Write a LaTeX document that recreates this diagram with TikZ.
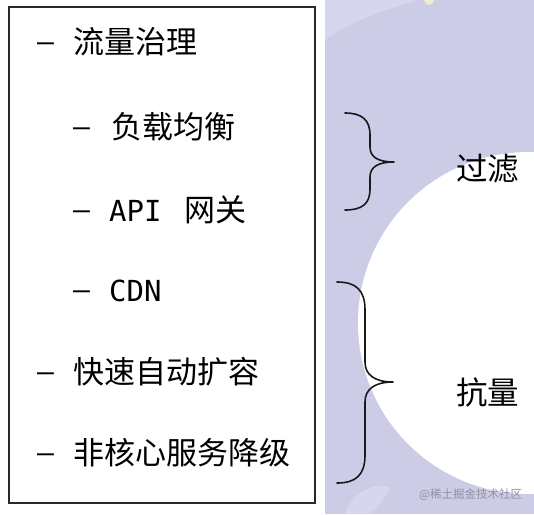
\documentclass[tikz,border=0pt]{standalone}
\usepackage{fontspec}
\setmainfont{Noto Sans CJK SC}
\newfontfamily\monofnt{DejaVu Sans Mono}
\definecolor{lav}{HTML}{CCCCE6}
\definecolor{lavlight}{HTML}{D6D7EE}
\definecolor{boxline}{HTML}{2A2A2A}
\definecolor{wm}{HTML}{9090A4}
\definecolor{pale}{HTML}{F2EDD0}
\tikzset{
  item/.style={anchor=base west, inner sep=0pt, font=\fontsize{31}{36}\selectfont},
  monoitem/.style={anchor=base west, inner sep=0pt, font=\monofnt\fontsize{29}{36}\selectfont},
  dashitem/.style={anchor=base west, inner sep=0pt, font=\monofnt\fontsize{28}{36}\selectfont},
  tag/.style={anchor=base west, inner sep=0pt, font=\fontsize{31.5}{36}\selectfont},
  bracestyle/.style={line width=1.6pt, draw=black!90, line cap=round, line join=round},
}
\begin{document}
\begin{tikzpicture}[x=1pt,y=-1pt]
\useasboundingbox (0,0) rectangle (534,514);
% right decorative background
\begin{scope}
  \clip (325,0) rectangle (534,514);
  \fill[lav] (325,0) rectangle (534,514);
  \fill[lavlight] (325,0) -- (420,0) .. controls (380,10) and (345,25) .. (325,40) -- cycle;
  \fill[lavlight] (345,514) .. controls (350,495) and (375,480) .. (390,488) .. controls (385,500) and (375,510) .. (368,514) -- cycle;
  \fill[pale] (429,0) ellipse (5 and 5);
  \fill[white] (529,323) circle (171);
\end{scope}
% left box
\draw[boxline, line width=1.3pt] (9,7) rectangle (315,503);
% list items
\node[dashitem] (d1) at (37,51) {–};
\node[item] (t1) at (73,53.6) {流量治理};
\node[dashitem] (d2) at (73,136) {–};
\node[item] (t2) at (111,138.6) {负载均衡};
\node[dashitem] (d3) at (73,219) {–};
\node[monoitem] (t3a) at (109,221) {API};
\node[item] (t3b) at (184,221.6) {网关};
\node[dashitem] (d4) at (73,299) {–};
\node[monoitem] (t4) at (109,301) {CDN};
\node[dashitem] (d5) at (37,381) {–};
\node[item] (t5) at (73,383.6) {快速自动扩容};
\node[dashitem] (d6) at (37,462) {–};
\node[item] (t6) at (73,464.6) {非核心服务降级};
% braces
\coordinate (b1t) at (345,113);
\coordinate (b1m) at (394,162);
\coordinate (b1b) at (345,210);
\draw[bracestyle] (b1t) .. controls (362,113) and (370,120) .. (370,135) -- (370,147)
  .. controls (370,157) and (378,162) .. (b1m)
  .. controls (378,162) and (370,167) .. (370,177) -- (370,189)
  .. controls (370,204) and (362,210) .. (b1b);
\coordinate (b2t) at (337,282);
\coordinate (b2m) at (393,382);
\coordinate (b2b) at (337,483);
\draw[bracestyle] (b2t) .. controls (356,282) and (365,290) .. (365,310) -- (365,362)
  .. controls (365,375) and (375,382) .. (b2m)
  .. controls (375,382) and (365,389) .. (365,402) -- (365,455)
  .. controls (365,475) and (356,483) .. (b2b);
% labels
\node[tag] (f) at (456,180) {过滤};
\node[tag] (k) at (456,404) {抗量};
% watermark
\node[anchor=base west, inner sep=0pt, text=wm, font=\fontsize{11.5}{14}\selectfont] (w) at (419,498) {@稀土掘金技术社区};
\end{tikzpicture}
\end{document}
